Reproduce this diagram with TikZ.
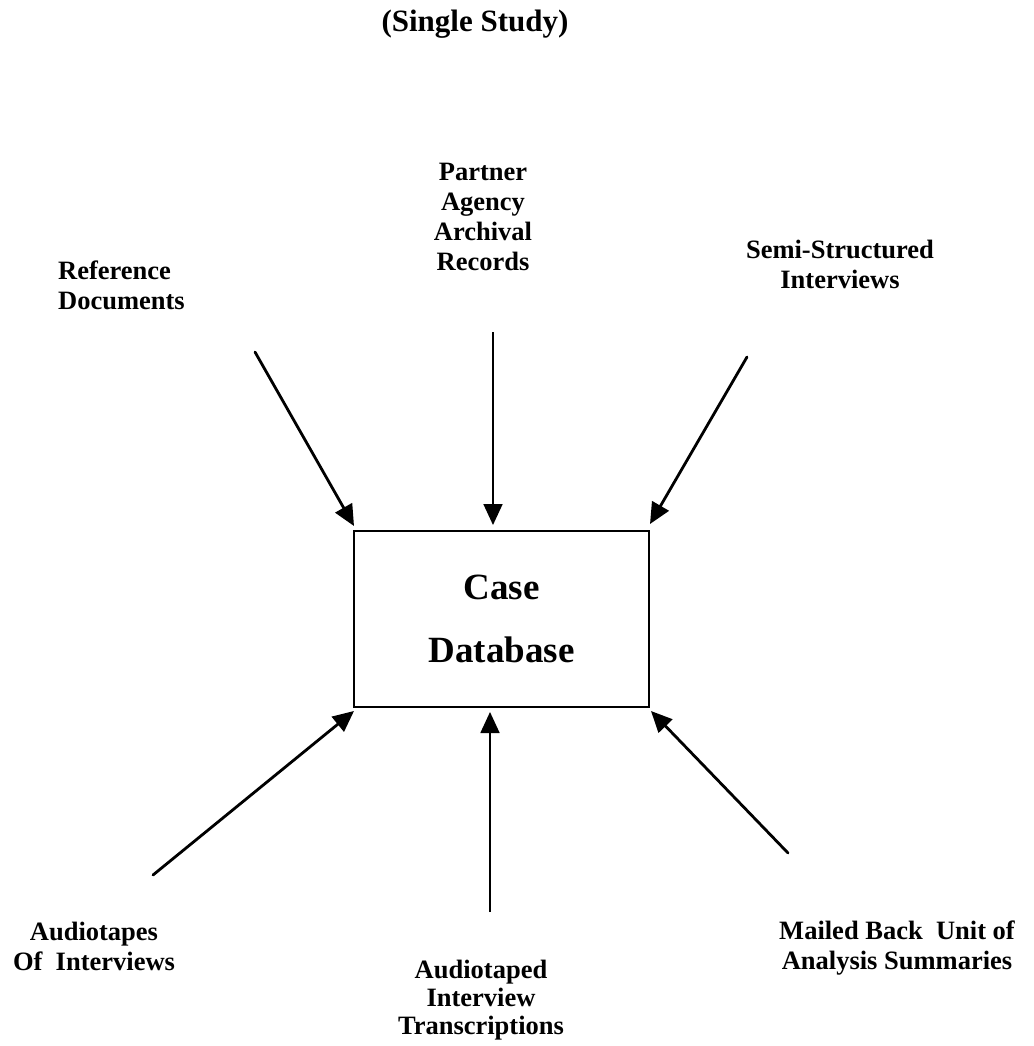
\documentclass[tikz,border=0pt]{standalone}
\usepackage{fontspec}
\setmainfont{Liberation Serif}
\usetikzlibrary{arrows.meta}
\begin{document}
\begin{tikzpicture}[x=1pt,y=-1pt,
  label/.style={font=\fontsize{26.5}{30}\selectfont\bfseries, align=center, inner sep=0pt},
  feed/.style={-{Triangle[length=21pt,width=19pt]}, line width=2.8pt, line cap=round},
  feedthin/.style={-{Triangle[length=21pt,width=19pt]}, line width=1.8pt}]
  % canvas
  \useasboundingbox (0,0) rectangle (1033,1046);
  \fill[white] (0,0) rectangle (1033,1046);

  % heading
  \node[font=\fontsize{31}{36}\selectfont\bfseries, inner sep=0pt] (title) at (475,24) {(Single Study)};

  % central store
  \node[draw, line width=2.8pt, minimum width=295pt, minimum height=176pt, inner sep=0pt,
        font=\fontsize{37}{63}\selectfont\bfseries, align=center] (db) at (501.5,619) {Case\\Database};

  % sources
  \node[label, anchor=west, align=left] (refdocs) at (58,285) {Reference\\Documents};
  \node[label] (partner) at (483,217) {Partner\\Agency\\Archival\\Records};
  \node[label] (semi) at (840,264) {Semi-Structured\\Interviews};
  \node[label] (tapes) at (94,946) {Audiotapes\\Of\ \ Interviews};
  \node[label, font=\fontsize{26.5}{28}\selectfont\bfseries] (transcr) at (481,1000) {Audiotaped\\Interview\\Transcriptions};
  \node[label] (mailed) at (897,948) {Mailed Back\ \ Unit of\\Analysis Summaries};

  % arrow ends
  \coordinate (s1) at (255,352);   \coordinate (t1) at (354,526);
  \coordinate (s2) at (493,332);   \coordinate (t2) at (493,525);
  \coordinate (s3) at (747,357);   \coordinate (t3) at (650,524);
  \coordinate (s4) at (153,875);   \coordinate (t4) at (354,711);
  \coordinate (s5) at (490,912);   \coordinate (t5) at (490,712);
  \coordinate (s6) at (788,853);   \coordinate (t6) at (651,711);

  % inflows
  \draw[feed] (s1) -- (t1);
  \draw[feedthin] (s2) -- (t2);
  \draw[feed] (s3) -- (t3);
  \draw[feed] (s4) -- (t4);
  \draw[feedthin] (s5) -- (t5);
  \draw[feed] (s6) -- (t6);
\end{tikzpicture}
\end{document}
